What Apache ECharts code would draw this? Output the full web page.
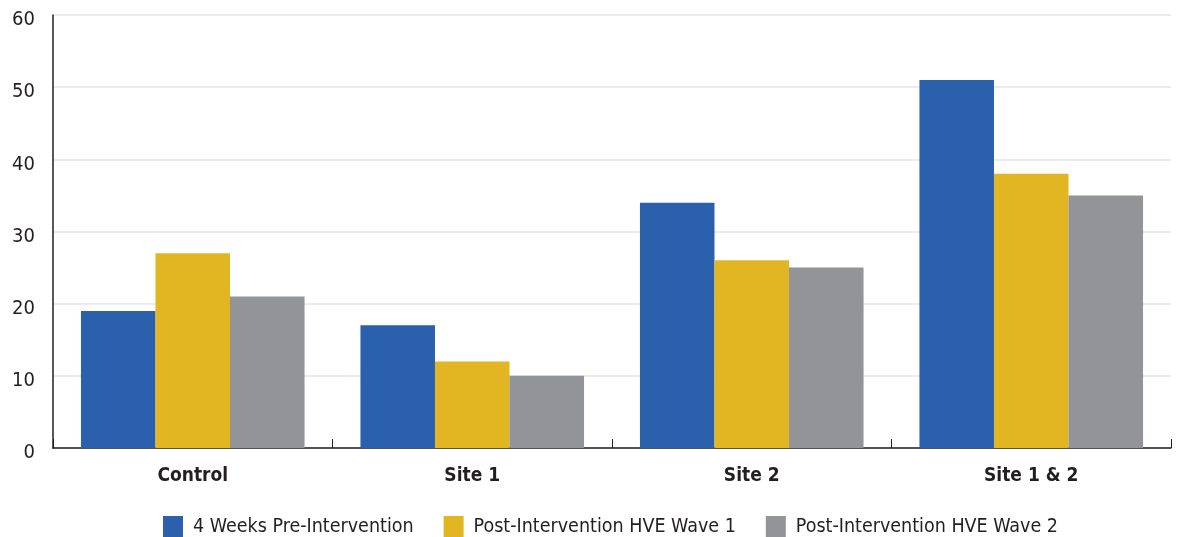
<!DOCTYPE html>
<html>
<head>
<meta charset="utf-8">
<script src="https://cdn.jsdelivr.net/npm/echarts@6/dist/echarts.min.js"></script>
<style>
  html, body { margin: 0; padding: 0; background: #fff; }
  #chart { width: 1178px; height: 537px; }
</style>
</head>
<body>
<div id="chart"></div>
<script>
// Groups along the x axis
const categories = ['Control', 'Site 1', 'Site 2', 'Site 1 & 2'];

// Series names and values
const seriesNames = ['4 Weeks Pre-Intervention', 'Post-Intervention HVE Wave 1', 'Post-Intervention HVE Wave 2'];
const preIntervention = [19, 17, 34, 51];
const hveWave1 = [27, 12, 26, 38];
const hveWave2 = [21, 10, 25, 35];

const colors = ['#2b60ad', '#e2b523', '#939498'];
const FONT = "'DejaVu Sans Condensed', 'Liberation Sans', sans-serif";

const chart = echarts.init(document.getElementById('chart'), null, { renderer: 'canvas' });

const values = [preIntervention, hveWave1, hveWave2];

chart.setOption({
  animation: false,
  color: colors,
  textStyle: { fontFamily: FONT },
  grid: { left: 53, right: 7, top: 15, bottom: 89, containLabel: false },
  legend: {
    top: 511,
    left: 158,
    itemWidth: 20,
    itemHeight: 21,
    itemGap: 30,
    icon: 'rect',
    textStyle: { fontFamily: FONT, fontSize: 19.5, color: '#231f20', padding: [0, 0, 0, 5] },
    data: seriesNames
  },
  xAxis: {
    type: 'category',
    data: categories,
    axisLine: { lineStyle: { color: '#231f20', width: 1.5 } },
    axisTick: { show: true, inside: true, length: 9, lineStyle: { color: '#231f20', width: 1 } },
    axisLabel: { fontFamily: FONT, fontSize: 19, fontWeight: 'bold', color: '#231f20', margin: 19 }
  },
  yAxis: {
    type: 'value',
    min: 0,
    max: 60,
    interval: 10,
    axisLine: { show: true, lineStyle: { color: '#231f20', width: 1.5 } },
    axisTick: { show: false },
    splitLine: { lineStyle: { color: '#e6e6e6', width: 1.5 } },
    axisLabel: {
      margin: 18,
      formatter: '{t|{value}}',
      rich: { t: { fontFamily: FONT, fontSize: 20, color: '#231f20', padding: [10, 0, 0, 0] } }
    }
  },
  series: seriesNames.map((name, i) => ({
    name: name,
    type: 'bar',
    data: values[i],
    barGap: '0%',
    barCategoryGap: '20%',
    itemStyle: { color: colors[i] }
  }))
});
</script>
</body>
</html>
